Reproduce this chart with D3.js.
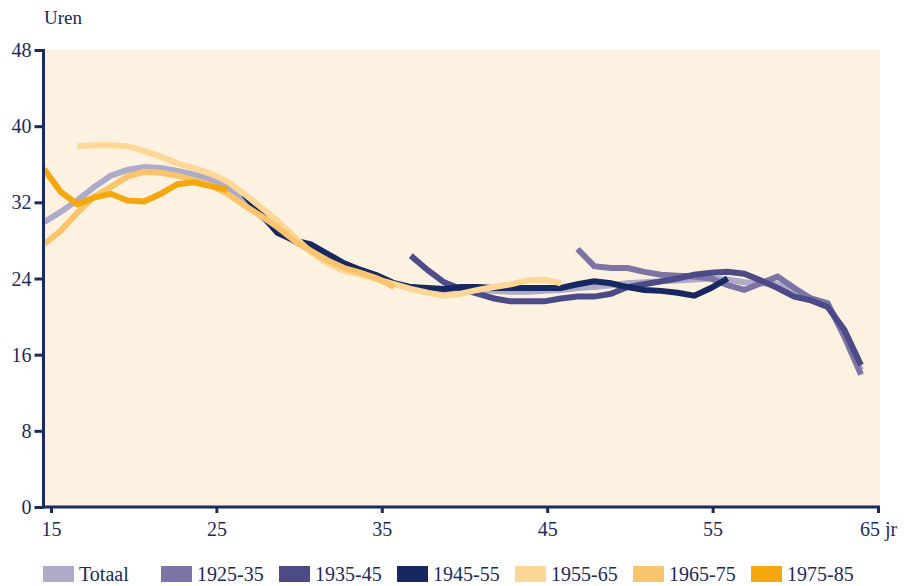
<!DOCTYPE html>
<html>
<head>
<meta charset="utf-8">
<script src="https://cdn.jsdelivr.net/npm/d3@7"></script>
<style>
  body { margin: 0; background: #fff; }
  svg text { font-family: "Liberation Serif", "DejaVu Serif", serif; fill: #1b2a5f; }
</style>
</head>
<body>
<div id="chart"></div>
<script>
// cohorts, each with the age of its first point
const seriesNames = ["Totaal", "1925-35", "1935-45", "1945-55", "1955-65", "1965-75", "1975-85"];
const startAges = [15, 47, 37, 27, 17, 15, 15];

const totaal = [29.9, 31.0, 32.2, 33.6, 34.8, 35.4, 35.7, 35.6, 35.3, 34.9,
    34.4, 33.5, 32.2, 30.6, 29.0, 27.9, 27.0, 26.0, 25.2, 24.6,
    24.0, 23.5, 23.1, 22.8, 22.8, 22.8, 22.8, 22.7, 22.6, 22.6,
    22.7, 22.8, 23.0, 23.1, 23.3, 23.5, 23.6, 23.7, 23.8, 23.9,
    24.0, 23.9, 23.6, 23.5, 23.4, 22.6, 21.9, 21.2, 18.3, 14.4];
const c1925 = [27.1, 25.3, 25.1, 25.1, 24.7, 24.4, 24.3, 24.2, 24.0, 23.3,
    22.8, 23.5, 24.2, 23.0, 21.9, 21.4, 17.9, 13.9];
const c1935 = [26.4, 24.9, 23.6, 22.9, 22.4, 21.9, 21.6, 21.6, 21.6, 21.9,
    22.1, 22.1, 22.4, 23.1, 23.4, 23.7, 24.0, 24.4, 24.6, 24.7,
    24.5, 23.8, 23.0, 22.1, 21.7, 21.0, 18.6, 14.9];
const c1945 = [32.8, 30.8, 28.8, 28.0, 27.6, 26.6, 25.6, 24.9, 24.3, 23.5,
    23.1, 23.0, 22.9, 23.1, 23.1, 23.0, 23.0, 23.0, 23.0, 23.0,
    23.4, 23.7, 23.5, 23.1, 22.8, 22.7, 22.5, 22.2, 23.0, 24.0];
const c1955 = [37.9, 38.0, 38.0, 37.9, 37.4, 36.8, 36.1, 35.6, 35.0, 34.2,
    32.9, 31.5, 30.1, 28.4, 26.8, 25.6, 24.8, 24.4, 23.9, 23.4,
    22.9, 22.5, 22.2, 22.4, 22.8, 23.1, 23.4, 23.8, 23.9, 23.5];
const c1965 = [27.6, 29.0, 30.9, 32.6, 33.6, 34.7, 35.2, 35.1, 34.8, 34.3,
    33.8, 32.9, 31.7, 30.6, 29.4, 28.0, 26.9, 25.9, 25.1, 24.6,
    24.0, 23.1];
const c1975 = [35.5, 33.1, 31.8, 32.5, 32.9, 32.2, 32.1, 32.9, 33.9, 34.1,
    33.7, 33.3];

const xTicks = [15, 25, 35, 45, 55, 65];
const xTickLabels = ["15", "25", "35", "45", "55", "65 jr"];
const yTicks = [0, 8, 16, 24, 32, 40, 48];

const colors = ["#aeaac9", "#7b74a5", "#4c4a87", "#172762", "#fdd797", "#f9c46b", "#f5a70f"];
const navy = "#1b2a5f";

const width = 908;
const height = 586;

const allValues = [totaal, c1925, c1935, c1945, c1955, c1965, c1975];

const svg = d3.select("#chart")
    .append("svg")
    .attr("width", width)
    .attr("height", height);

// axis scale and the (slightly different) scale the data points sit on
const x = d3.scaleLinear().domain([15, 65]).range([51, 878]);
const xPts = d3.scaleLinear().domain([15, 64]).range([44, 861]);
const y = d3.scaleLinear().domain([0, 48]).range([507, 50]);

// plot background
svg.append("rect")
    .attr("x", 45)
    .attr("y", y(48))
    .attr("width", 880 - 45)
    .attr("height", y(0) - y(48))
    .attr("fill", "#fdf2e1");

// lines
const line = d3.line()
    .x(d => xPts(d.age))
    .y(d => y(d.v));

allValues.forEach((vals, i) => {
    const pts = vals.map((v, j) => ({ age: startAges[i] + j, v: v }));
    svg.append("path")
        .datum(pts)
        .attr("d", line)
        .attr("fill", "none")
        .attr("stroke", colors[i])
        .attr("stroke-width", 6)
        .attr("stroke-linejoin", "miter");
});

// y axis
const yAxis = svg.append("g")
    .attr("transform", "translate(43.5,0)")
    .call(d3.axisLeft(y).tickValues(yTicks).tickSize(9).tickPadding(3).tickSizeOuter(0));
yAxis.select(".domain").remove();
yAxis.selectAll(".tick line").attr("stroke", navy).attr("stroke-width", 3);
yAxis.selectAll(".tick text").style("font-size", "20px").attr("dy", "0.33em");

// x axis
const xAxis = svg.append("g")
    .attr("transform", `translate(0,${y(0)})`)
    .call(d3.axisBottom(x).tickValues(xTicks).tickSize(6).tickSizeOuter(0)
        .tickFormat((d, i) => xTickLabels[i]));
xAxis.select(".domain").remove();
xAxis.selectAll(".tick line").attr("stroke", navy).attr("stroke-width", 3);
xAxis.selectAll(".tick text").style("font-size", "20px").attr("y", 15);

// axis lines
svg.append("line")
    .attr("x1", 43.5).attr("x2", 43.5)
    .attr("y1", y(48) - 1).attr("y2", y(0) + 1.5)
    .attr("stroke", navy).attr("stroke-width", 3);
svg.append("line")
    .attr("x1", 42).attr("x2", 880)
    .attr("y1", y(0)).attr("y2", y(0))
    .attr("stroke", navy).attr("stroke-width", 3);

// unit label
svg.append("text")
    .attr("x", 44)
    .attr("y", 24)
    .style("font-size", "19px")
    .text("Uren");

// legend
const legend = svg.selectAll(".legends")
    .data(seriesNames)
    .enter().append("g")
    .attr("class", "legends")
    .attr("transform", (d, i) => `translate(${43 + i * 118},566)`);

legend.append("rect")
    .attr("x", 0)
    .attr("y", 0)
    .attr("width", 31)
    .attr("height", 16)
    .attr("fill", (d, i) => colors[i]);

legend.append("text")
    .attr("x", 36)
    .attr("y", 15)
    .style("font-size", "20px")
    .text(d => d);
</script>
</body>
</html>
